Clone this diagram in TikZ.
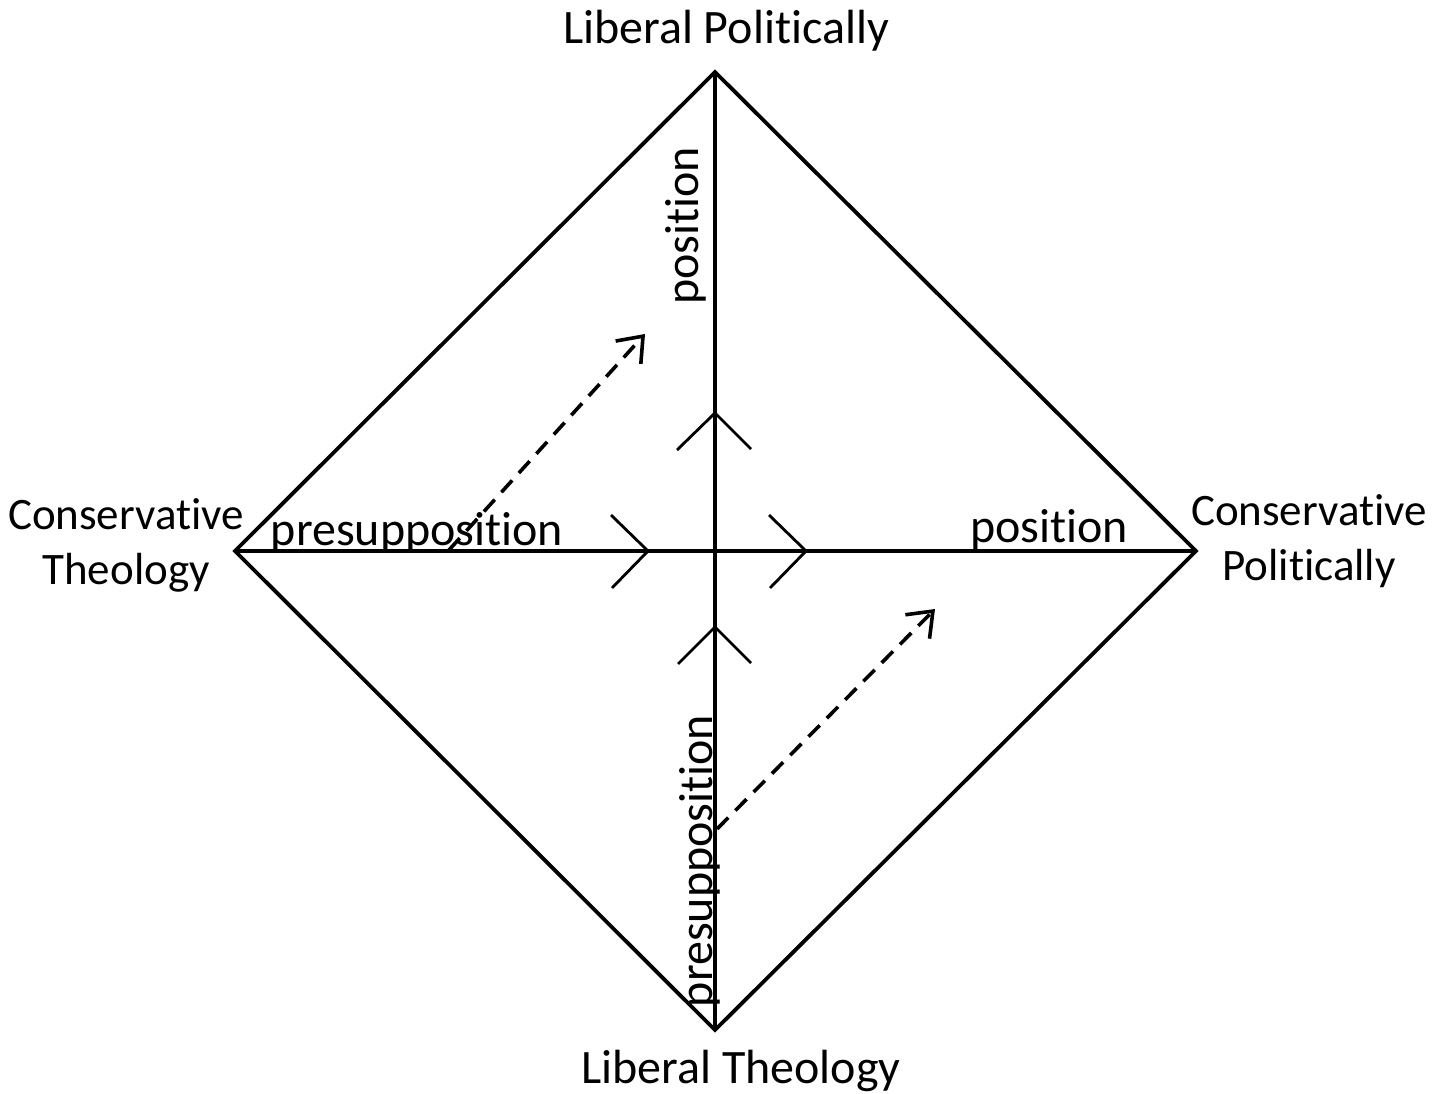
\documentclass[tikz,border=0pt]{standalone}
\usepackage{fontspec}
\setmainfont[Ligatures=NoCommon]{Carlito}
\usetikzlibrary{arrows.meta}
\begin{document}
\begin{tikzpicture}[x=1pt,y=-1pt,
  mainline/.style={line width=3.8pt},
  chev/.style={line width=2.8pt},
  dasharrow/.style={line width=3.6pt, dash pattern=on 16pt off 10pt, -{Straight Barb[length=22pt,width=34pt,line width=3.6pt]}},
  lbl/.style={inner sep=0pt, font=\fontsize{48}{55}\selectfont, align=center},
  sidelbl/.style={inner sep=0pt, font=\fontsize{45}{55}\selectfont, align=center}]
\useasboundingbox (0,0) rectangle (1445,1094);
\fill[white] (0,0) rectangle (1445,1094);
\coordinate (T) at (715,72);
\coordinate (R) at (1196,551);
\coordinate (B) at (715,1030);
\coordinate (L) at (235,551);
\draw[mainline, line join=miter] (T) -- (R) -- (B) -- (L) -- cycle;
\draw[mainline] (T) -- (B);
\draw[mainline] (L) -- (R);
% chevrons
\coordinate (c1) at (648,551);
\coordinate (c2) at (806,551);
\coordinate (c3) at (715,413);
\coordinate (c4) at (715,627);
\draw[chev] (c1) +(-37,-36) -- (c1) -- +(-36,37);
\draw[chev] (c2) +(-37,-36) -- (c2) -- +(-36,37);
\draw[chev] (c3) +(-38,37) -- (c3) -- +(36,36);
\draw[chev] (c4) +(-37,37) -- (c4) -- +(36,36);
% dashed arrows
\coordinate (a1s) at (449,550);
\coordinate (a1e) at (645,334);
\coordinate (a2s) at (717,829);
\coordinate (a2e) at (935,609);
\draw[dasharrow] (a1s) -- (a1e);
\draw[dasharrow] (a2s) -- (a2e);
% corner labels
\node[lbl] (lp) at (726,31) {Liberal Politically};
\node[sidelbl] (ct) at (126,545) {Conservative\\Theology};
\node[sidelbl] (cp) at (1309,541) {Conservative\\Politically};
\node[lbl] (lt) at (741,1071) {Liberal Theology};
% axis labels
\node[lbl] (pre1) at (417,533) {presupposition};
\node[lbl] (pos1) at (1049,530) {position};
\node[lbl, rotate=90] (pos2) at (686,226) {position};
\node[lbl, rotate=90] (pre2) at (700,861) {presupposition};
\end{tikzpicture}
\end{document}
